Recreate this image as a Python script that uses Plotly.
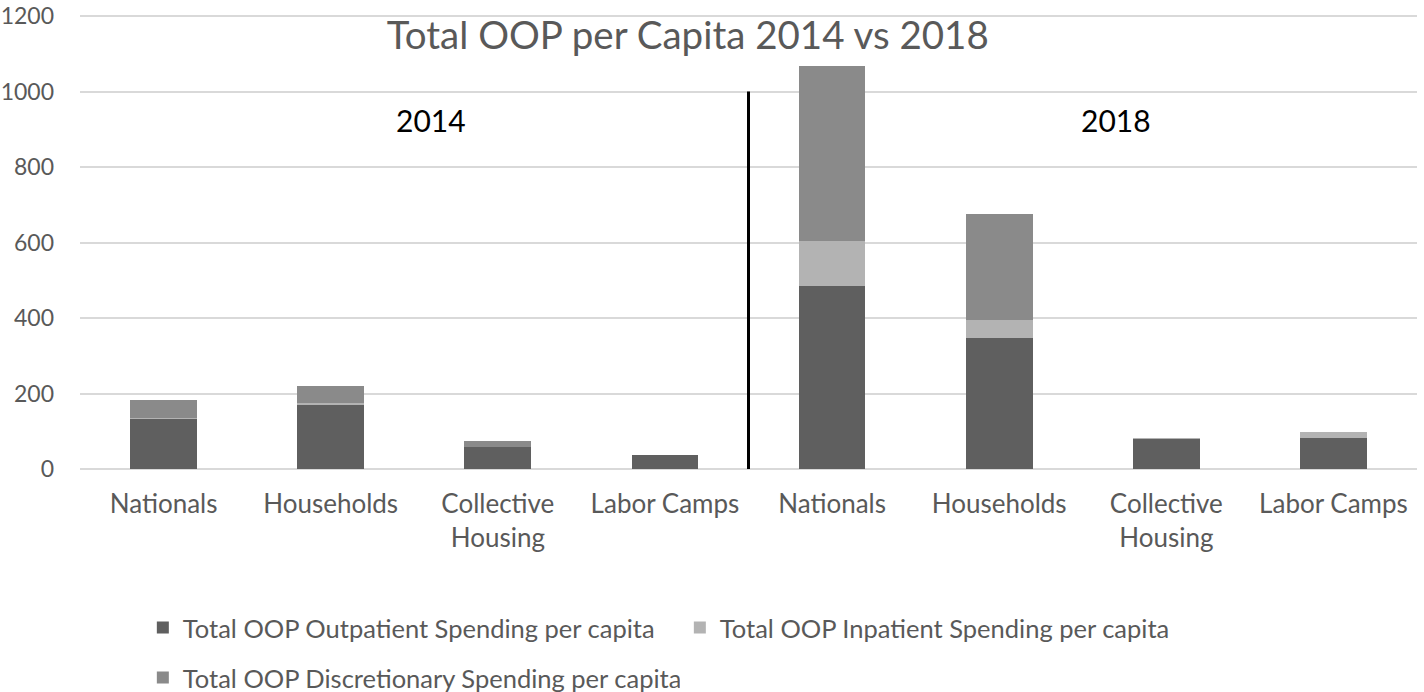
import plotly.graph_objects as go

categories = ["Nationals", "Households", "Collective<br>Housing", "Labor Camps",
              "Nationals", "Households", "Collective<br>Housing", "Labor Camps"]
outpatient = [135, 171, 59, 38, 484, 347, 80, 81]
inpatient = [1, 5, 0, 0, 120, 47, 2, 18]
discretionary = [47, 43, 16, 0, 463, 282, 0, 0]
years = ["2014", "2018"]
y_ticks = [0, 200, 400, 600, 800, 1000, 1200]

x = list(range(len(categories)))
FONT = "Lato"
GRAY = "#595959"

fig = go.Figure()
series = [
    ("Total OOP Outpatient Spending per capita", outpatient, "#5f5f5f", "legend"),
    ("Total OOP Inpatient Spending per capita", inpatient, "#b3b3b3", "legend"),
    ("Total OOP Discretionary Spending per capita", discretionary, "#8a8a8a", "legend2"),
]
for name, vals, col, lg in series:
    fig.add_trace(go.Bar(x=x, y=vals, name=name, legend=lg,
                         marker=dict(color=col, line=dict(width=0))))

half = len(categories) / 2 - 0.5
fig.add_shape(type="line", xref="x", yref="y", x0=half, x1=half, y0=0, y1=1000,
              line=dict(color="black", width=3))

fig.add_annotation(x=(len(categories) / 4) - 0.5 + 0.1, y=925, xref="x", yref="y", text=years[0],
                   showarrow=False, font=dict(family=FONT, size=30, color="black"))
fig.add_annotation(x=(3 * len(categories) / 4) - 0.5 + 0.2, y=925, xref="x", yref="y", text=years[1],
                   showarrow=False, font=dict(family=FONT, size=30, color="black"))

PLOT_TOP, PLOT_BOTTOM = 15, 469
plot_h = PLOT_BOTTOM - PLOT_TOP

legend_common = dict(orientation="h", x=0.047, xanchor="left", yanchor="middle",
                     font=dict(family=FONT, size=25.5, color=GRAY), entrywidth=492,
                     entrywidthmode="pixels", traceorder="normal", itemwidth=30,
                     bgcolor="rgba(0,0,0,0)")

fig.update_layout(
    width=1424, height=692,
    margin=dict(l=80, r=7, t=PLOT_TOP, b=692 - PLOT_BOTTOM, autoexpand=False),
    barmode="stack", bargap=0.6,
    plot_bgcolor="white", paper_bgcolor="white",
    font=dict(family=FONT, size=25, color=GRAY),
    title=dict(text="Total OOP per Capita 2014 vs 2018", x=0.483, xanchor="center",
               y=1 - 36 / 692, yanchor="middle", font=dict(family=FONT, size=38.5, color=GRAY)),
    xaxis=dict(tickvals=x, ticktext=categories, showgrid=False, zeroline=False,
               showline=False, tickfont=dict(size=26, color=GRAY), ticklabelstandoff=17,
               range=[-0.5, len(categories) - 0.5]),
    yaxis=dict(range=[0, 1203], tickvals=y_ticks, showgrid=True, gridcolor="#d9d9d9", gridwidth=2,
               zeroline=True, zerolinecolor="#d9d9d9", zerolinewidth=2, showline=False,
               tickfont=dict(size=23, color=GRAY), ticklabelstandoff=25,
               ticklabeloverflow="allow"),
    legend=dict(y=(PLOT_BOTTOM - 628) / plot_h, **legend_common),
    legend2=dict(y=(PLOT_BOTTOM - 678) / plot_h, **legend_common),
)

fig.write_html("out.html", config={"displayModeBar": False},
               post_script="document.body.style.margin='0';document.body.style.padding='0';")
